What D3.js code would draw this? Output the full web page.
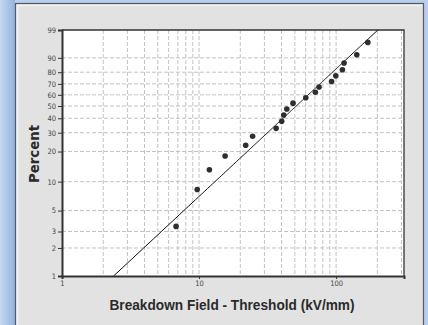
<meta charset="utf-8">
<body style="margin:0;background:#b9cfea">
<div id=chart></div>
</body>
<script src="https://d3js.org/d3.v7.min.js"></script>
<script>
// breakdown field minus threshold (kV/mm)
var field = [6.8, 9.7, 11.9, 15.5, 21.9, 24.6, 36.5, 40.1, 41.5, 43.7,
             48.5, 60.1, 70.6, 75.1, 92.7, 99.5, 111.2, 114.4, 141.6, 170.4];
// percent (median rank)
var percent = [3.4, 8.3, 13.2, 18.1, 23.0, 27.9, 32.8, 37.7, 42.6, 47.5,
               52.5, 57.4, 62.3, 67.2, 72.1, 77.0, 81.9, 86.8, 91.7, 96.6];
var yTicks = [1, 2, 3, 5, 10, 20, 30, 40, 50, 60, 70, 80, 90, 99];
var yGrid = [2, 3, 5, 10, 20, 30, 40, 50, 60, 70, 80, 90];
var xTicks = [1, 10, 100];
var xGrid = [2, 3, 4, 5, 6, 7, 8, 9, 10, 20, 30, 40, 50, 60, 70, 80, 90, 100, 200, 300];
// weibull fit
var shape = 1.38, scale = 66.7;

var W = 428, H = 325;
var pLeft = 62, pRight = 404, pTop = 30, pBottom = 276;

// weibull probability transform
function wt(p) { return Math.log(-Math.log(1 - p / 100)); }

var svg = d3.select("#chart").append("svg")
  .attr("width", W).attr("height", H);

var defs = svg.append("defs");
var grad = defs.append("linearGradient").attr("id", "lg");
grad.append("stop").attr("offset", "0%").attr("stop-color", "#c6d9f0");
grad.append("stop").attr("offset", "100%").attr("stop-color", "#93b3dc");

svg.append("rect").attr("x", 0).attr("y", 0).attr("width", 15).attr("height", H)
  .attr("fill", "url(#lg)");

// gray panel
svg.append("rect")
  .attr("x", 15.5).attr("y", 3.5).attr("width", 408).attr("height", H)
  .attr("fill", "#e2e2e2").attr("stroke", "#4f5a6c").attr("stroke-width", 1.2);
svg.append("path").attr("d", "M17.5," + H + "V5.5H422")
  .attr("fill", "none").attr("stroke", "#f1f1f1").attr("stroke-width", 1.5);

var x = d3.scaleLog().domain([1, 313]).range([pLeft, pRight]);
var yw = d3.scaleLinear().domain([wt(1), wt(99)]).range([pBottom, pTop]);
var y = function(p) { return yw(wt(p)); };

svg.append("rect").attr("x", pLeft).attr("y", pTop)
  .attr("width", pRight - pLeft).attr("height", pBottom - pTop).attr("fill", "#fff");

// grid
svg.append("g").selectAll("line").data(xGrid.filter(function(d) { return x(d) < pRight - 1; }))
  .enter().append("line")
  .attr("x1", function(d) { return x(d); }).attr("x2", function(d) { return x(d); })
  .attr("y1", pTop).attr("y2", pBottom)
  .attr("stroke", "#c2c2c2").attr("stroke-dasharray", "4,2");
svg.append("g").selectAll("line").data(yGrid)
  .enter().append("line")
  .attr("x1", pLeft).attr("x2", pRight)
  .attr("y1", function(d) { return y(d); }).attr("y2", function(d) { return y(d); })
  .attr("stroke", "#c2c2c2").attr("stroke-dasharray", "4,2");

// frame
svg.append("path").attr("d", "M" + pLeft + "," + pTop + "H" + pRight + "V" + pBottom)
  .attr("fill", "none").attr("stroke", "#333").attr("stroke-width", 1.3);

// axes
var yAxis = d3.axisLeft(yw)
  .tickValues(yTicks.map(wt))
  .tickFormat(function(d, i) { return yTicks[i]; })
  .tickSize(4).tickPadding(2);
var gy = svg.append("g").attr("transform", "translate(" + pLeft + ",0)").call(yAxis);

var xAxis = d3.axisBottom(x).tickValues(xTicks).tickFormat(d3.format("d"))
  .tickSize(3).tickPadding(2);
var gx = svg.append("g").attr("transform", "translate(0," + pBottom + ")").call(xAxis);

[gx, gy].forEach(function(g) {
  g.select(".domain").attr("stroke", "#333").attr("stroke-width", 2);
  g.selectAll(".tick line").attr("stroke", "#333");
  g.selectAll("text").attr("fill", "#444")
    .style("font-family", "'DejaVu Sans Condensed', sans-serif").style("font-size", "7.5px");
});

// fit line
var pLine = d3.range(1, 99.01, 0.5);
svg.append("path")
  .datum(pLine)
  .attr("d", d3.line()
    .x(function(p) { return x(scale * Math.pow(-Math.log(1 - p / 100), 1 / shape)); })
    .y(function(p) { return y(p); }))
  .attr("fill", "none").attr("stroke", "#111").attr("stroke-width", 1);

// points
svg.append("g").selectAll("circle").data(field)
  .enter().append("circle")
  .attr("cx", function(d) { return x(d); })
  .attr("cy", function(d, i) { return y(percent[i]); })
  .attr("r", 2.8).attr("fill", "#2e2e2e");

// titles
svg.append("text").attr("x", 232).attr("y", 310)
  .attr("text-anchor", "middle").attr("textLength", 245).attr("lengthAdjust", "spacingAndGlyphs")
  .style("font-family", "'Liberation Sans Narrow', sans-serif").style("font-size", "15px")
  .style("font-weight", "bold").attr("fill", "#2a2a2a")
  .text("Breakdown Field - Threshold (kV/mm)");

svg.append("text").attr("transform", "translate(39,154) rotate(-90)")
  .attr("text-anchor", "middle").attr("textLength", 58).attr("lengthAdjust", "spacingAndGlyphs")
  .style("font-family", "'DejaVu Sans', sans-serif").style("font-size", "14px")
  .style("font-weight", "bold").attr("fill", "#2a2a2a")
  .text("Percent");
</script>
